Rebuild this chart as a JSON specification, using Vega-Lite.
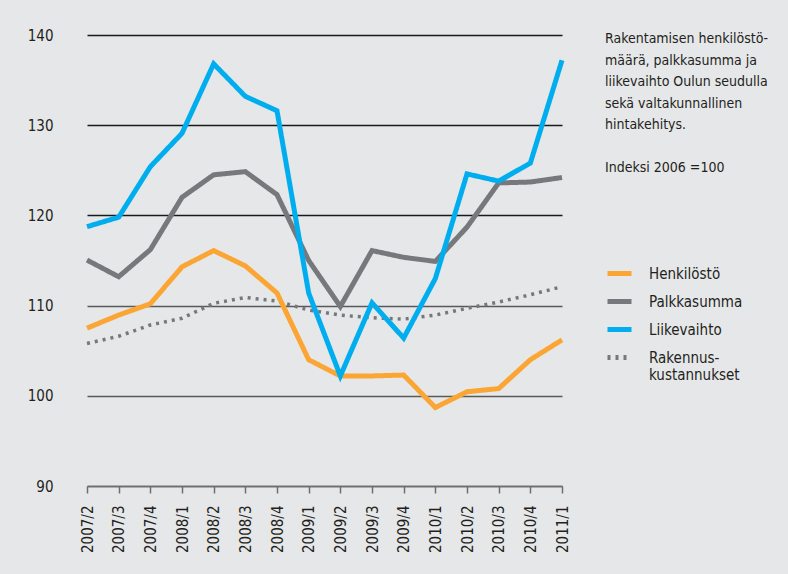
{
  "$schema": "https://vega.github.io/schema/vega-lite/v6.json",
  "autosize": {"type": "none"},
  "width": 489,
  "height": 451,
  "padding": {"left": 78, "top": 35, "right": 221, "bottom": 88},
  "background": "#e6e7e9",
  "config": {
    "view": {"stroke": null},
    "font": "DejaVu Sans Condensed, sans-serif",
    "axis": {"labelFont": "DejaVu Sans Condensed, sans-serif", "labelColor": "#231f20", "labelFontSize": 15},
    "legend": {"labelFont": "DejaVu Sans Condensed, sans-serif", "titleFont": "DejaVu Sans Condensed, sans-serif"}
  },
  "data": {"values": [
    {"t": "2007/2", "s": "Rakennuskustannukset", "v": 105.8},
    {"t": "2007/3", "s": "Rakennuskustannukset", "v": 106.6},
    {"t": "2007/4", "s": "Rakennuskustannukset", "v": 107.85},
    {"t": "2008/1", "s": "Rakennuskustannukset", "v": 108.6},
    {"t": "2008/2", "s": "Rakennuskustannukset", "v": 110.25},
    {"t": "2008/3", "s": "Rakennuskustannukset", "v": 110.9},
    {"t": "2008/4", "s": "Rakennuskustannukset", "v": 110.5},
    {"t": "2009/1", "s": "Rakennuskustannukset", "v": 109.5},
    {"t": "2009/2", "s": "Rakennuskustannukset", "v": 108.95},
    {"t": "2009/3", "s": "Rakennuskustannukset", "v": 108.65},
    {"t": "2009/4", "s": "Rakennuskustannukset", "v": 108.5},
    {"t": "2010/1", "s": "Rakennuskustannukset", "v": 108.95},
    {"t": "2010/2", "s": "Rakennuskustannukset", "v": 109.7},
    {"t": "2010/3", "s": "Rakennuskustannukset", "v": 110.4},
    {"t": "2010/4", "s": "Rakennuskustannukset", "v": 111.2},
    {"t": "2011/1", "s": "Rakennuskustannukset", "v": 112.1},
    {"t": "2007/2", "s": "Henkilöstö", "v": 107.5},
    {"t": "2007/3", "s": "Henkilöstö", "v": 108.95},
    {"t": "2007/4", "s": "Henkilöstö", "v": 110.2},
    {"t": "2008/1", "s": "Henkilöstö", "v": 114.3},
    {"t": "2008/2", "s": "Henkilöstö", "v": 116.1},
    {"t": "2008/3", "s": "Henkilöstö", "v": 114.4},
    {"t": "2008/4", "s": "Henkilöstö", "v": 111.4},
    {"t": "2009/1", "s": "Henkilöstö", "v": 104.0},
    {"t": "2009/2", "s": "Henkilöstö", "v": 102.2},
    {"t": "2009/3", "s": "Henkilöstö", "v": 102.2},
    {"t": "2009/4", "s": "Henkilöstö", "v": 102.3},
    {"t": "2010/1", "s": "Henkilöstö", "v": 98.7},
    {"t": "2010/2", "s": "Henkilöstö", "v": 100.45},
    {"t": "2010/3", "s": "Henkilöstö", "v": 100.8},
    {"t": "2010/4", "s": "Henkilöstö", "v": 104.0},
    {"t": "2011/1", "s": "Henkilöstö", "v": 106.2},
    {"t": "2007/2", "s": "Palkkasumma", "v": 115.05},
    {"t": "2007/3", "s": "Palkkasumma", "v": 113.2},
    {"t": "2007/4", "s": "Palkkasumma", "v": 116.2},
    {"t": "2008/1", "s": "Palkkasumma", "v": 122.0},
    {"t": "2008/2", "s": "Palkkasumma", "v": 124.5},
    {"t": "2008/3", "s": "Palkkasumma", "v": 124.85},
    {"t": "2008/4", "s": "Palkkasumma", "v": 122.3},
    {"t": "2009/1", "s": "Palkkasumma", "v": 115.0},
    {"t": "2009/2", "s": "Palkkasumma", "v": 109.9},
    {"t": "2009/3", "s": "Palkkasumma", "v": 116.1},
    {"t": "2009/4", "s": "Palkkasumma", "v": 115.35},
    {"t": "2010/1", "s": "Palkkasumma", "v": 114.9},
    {"t": "2010/2", "s": "Palkkasumma", "v": 118.7},
    {"t": "2010/3", "s": "Palkkasumma", "v": 123.6},
    {"t": "2010/4", "s": "Palkkasumma", "v": 123.7},
    {"t": "2011/1", "s": "Palkkasumma", "v": 124.2},
    {"t": "2007/2", "s": "Liikevaihto", "v": 118.75},
    {"t": "2007/3", "s": "Liikevaihto", "v": 119.8},
    {"t": "2007/4", "s": "Liikevaihto", "v": 125.4},
    {"t": "2008/1", "s": "Liikevaihto", "v": 129.1},
    {"t": "2008/2", "s": "Liikevaihto", "v": 136.8},
    {"t": "2008/3", "s": "Liikevaihto", "v": 133.2},
    {"t": "2008/4", "s": "Liikevaihto", "v": 131.6},
    {"t": "2009/1", "s": "Liikevaihto", "v": 111.4},
    {"t": "2009/2", "s": "Liikevaihto", "v": 102.2},
    {"t": "2009/3", "s": "Liikevaihto", "v": 110.3},
    {"t": "2009/4", "s": "Liikevaihto", "v": 106.4},
    {"t": "2010/1", "s": "Liikevaihto", "v": 113.0},
    {"t": "2010/2", "s": "Liikevaihto", "v": 124.6},
    {"t": "2010/3", "s": "Liikevaihto", "v": 123.8},
    {"t": "2010/4", "s": "Liikevaihto", "v": 125.8},
    {"t": "2011/1", "s": "Liikevaihto", "v": 137.2}
  ]},
  "mark": {"type": "line", "strokeJoin": "miter", "strokeCap": "butt"},
  "encoding": {
    "x": {
      "field": "t", "type": "ordinal", "sort": null,
      "scale": {"type": "point", "range": [9, 484], "padding": 0},
      "axis": {
        "title": null, "labelAngle": -90, "labelPadding": 12, "labelFontSize": 15,
        "domainColor": "#6d6e71", "domainWidth": 1.5, "tickColor": "#6d6e71", "tickWidth": 1.5, "tickSize": 7, "grid": false
      }
    },
    "y": {
      "field": "v", "type": "quantitative",
      "scale": {"domain": [90, 140], "nice": false, "zero": false},
      "axis": {
        "title": null, "values": [90, 100, 110, 120, 130, 140], "ticks": false, "domain": false,
        "labelPadding": 25, "grid": true, "gridWidth": 1.3,
        "gridColor": {"condition": {"test": "datum.value >= 120", "value": "#1a1a1a"}, "value": "#58595b"}
      }
    },
    "color": {
      "field": "s", "type": "nominal",
      "scale": {"domain": ["Henkilöstö", "Palkkasumma", "Liikevaihto", "Rakennuskustannukset"], "range": ["#fba634", "#77787b", "#00aeef", "#77787b"]},
      "legend": {
        "orient": "none", "legendX": 527, "legendY": -3, "padding": 0,
        "title": ["Rakentamisen henkilöstö-", "määrä, palkkasumma ja", "liikevaihto Oulun seudulla", "sekä valtakunnallinen", "hintakehitys.", "\u2800", "Indeksi 2006 =100"],
        "titleFontSize": 14, "titleFontWeight": "normal", "titleColor": "#231f20", "titleLineHeight": 21.5, "titlePadding": 84, "titleLimit": 400,
        "labelFontSize": 15, "labelColor": "#231f20", "labelOffset": 15, "labelLimit": 200, "labelLineHeight": 20,
        "labelExpr": "datum.label == 'Rakennuskustannukset' ? ['Rakennus-', 'kustannukset'] : datum.label",
        "symbolType": "stroke", "symbolSize": 576, "symbolStrokeWidth": 5, "rowPadding": 3
      }
    },
    "strokeDash": {
      "field": "s", "type": "nominal",
      "scale": {"domain": ["Henkilöstö", "Palkkasumma", "Liikevaihto", "Rakennuskustannukset"], "range": [[1, 0], [1, 0], [1, 0], [3, 5]]},
      "legend": null
    },
    "strokeWidth": {"condition": {"test": "datum.s == 'Rakennuskustannukset'", "value": 3.5}, "value": 5}
  }
}
